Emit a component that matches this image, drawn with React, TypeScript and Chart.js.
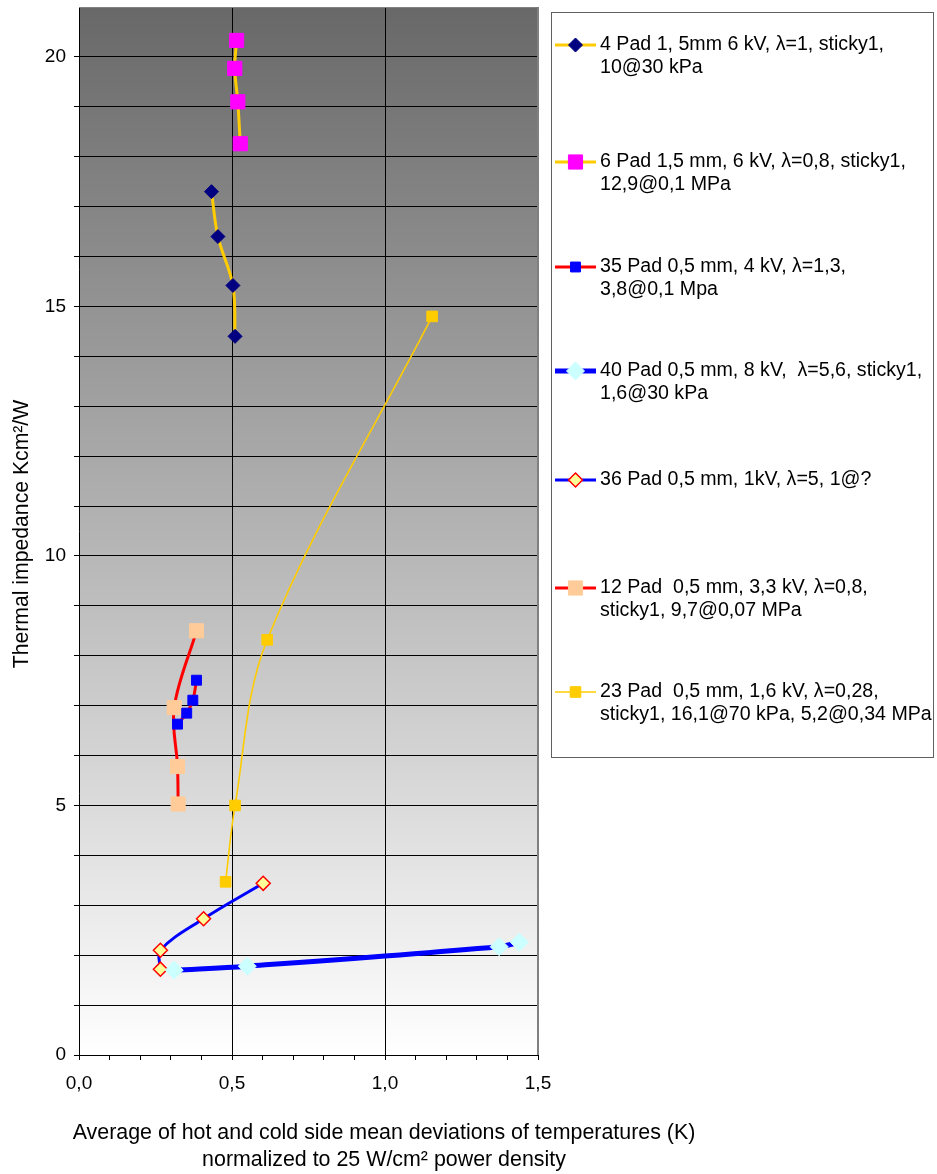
import React, { useEffect, useRef } from 'react';
import { Chart, registerables } from 'chart.js';

Chart.register(...registerables);

const FONT = '"Liberation Sans", Arial, sans-serif';

// ---- data ----
const seriesLabels: string[][] = [
  ['4 Pad 1, 5mm 6 kV, λ=1, sticky1,', '10@30 kPa'],
  ['6 Pad 1,5 mm, 6 kV, λ=0,8, sticky1,', '12,9@0,1 MPa'],
  ['35 Pad 0,5 mm, 4 kV, λ=1,3,', '3,8@0,1 Mpa'],
  ['40 Pad 0,5 mm, 8 kV,  λ=5,6, sticky1,', '1,6@30 kPa'],
  ['36 Pad 0,5 mm, 1kV, λ=5, 1@?'],
  ['12 Pad  0,5 mm, 3,3 kV, λ=0,8,', 'sticky1, 9,7@0,07 MPa'],
  ['23 Pad  0,5 mm, 1,6 kV, λ=0,28,', 'sticky1, 16,1@70 kPa, 5,2@0,34 MPa'],
];

const pad4X = [0.433, 0.454, 0.503, 0.510];
const pad4Y = [17.30, 16.40, 15.42, 14.40];
const pad6X = [0.515, 0.509, 0.519, 0.527];
const pad6Y = [20.33, 19.77, 19.10, 18.26];
const pad35X = [0.384, 0.372, 0.352, 0.322];
const pad35Y = [7.51, 7.11, 6.85, 6.63];
const pad40X = [0.311, 0.550, 1.373, 1.439];
const pad40Y = [1.70, 1.78, 2.17, 2.26];
const pad36X = [0.266, 0.266, 0.407, 0.602];
const pad36Y = [1.72, 2.10, 2.73, 3.44];
const pad12X = [0.384, 0.311, 0.322, 0.324];
const pad12Y = [8.50, 6.96, 5.78, 5.03];
const pad23X = [1.154, 0.615, 0.510, 0.479];
const pad23Y = [14.80, 8.32, 5.00, 3.47];

const xTitle = ['Average of hot and cold side mean deviations of temperatures (K)', 'normalized to 25 W/cm² power density'];
const yTitle = 'Thermal impedance Kcm²/W';

const X_MIN = 0;
const X_MAX = 1.5;
const Y_MIN = 0;
const Y_MAX = 21;

// ---- styles ----
const styles = [
  { line: '#FFCC00', lw: 3, ps: 'rectRot', r: 7, bg: '#000080', bc: '#000080', bw: 1 },
  { line: '#FFCC00', lw: 3, ps: 'rect', r: 10, bg: '#FF00FF', bc: '#FF00FF', bw: 1 },
  { line: '#FF0000', lw: 3, ps: 'rect', r: 7, bg: '#0000FF', bc: '#0000FF', bw: 1 },
  { line: '#0000FF', lw: 5, ps: 'rectRot', r: 9, bg: '#CCFFFF', bc: '#CCFFFF', bw: 1 },
  { line: '#0000FF', lw: 3, ps: 'rectRot', r: 7, bg: '#FFFF99', bc: '#FF0000', bw: 1.5 },
  { line: '#FF0000', lw: 3, ps: 'rect', r: 10, bg: '#FFCC99', bc: '#FFCC99', bw: 1 },
  { line: '#FFCC00', lw: 1.6, ps: 'rect', r: 7.5, bg: '#FFCC00', bc: '#FFCC00', bw: 1 },
];

const legendEntryY = [45, 162, 267, 371, 480, 588, 692];

function zip(xs: number[], ys: number[]) {
  return xs.map((x, i) => ({ x, y: ys[i] }));
}

function drawMarker(ctx: CanvasRenderingContext2D, st: any, x: number, y: number) {
  ctx.beginPath();
  if (st.ps === 'rect') {
    const s = st.r * Math.SQRT1_2;
    ctx.rect(x - s, y - s, 2 * s, 2 * s);
  } else {
    ctx.moveTo(x, y - st.r);
    ctx.lineTo(x + st.r, y);
    ctx.lineTo(x, y + st.r);
    ctx.lineTo(x - st.r, y);
    ctx.closePath();
  }
  ctx.fillStyle = st.bg;
  ctx.fill();
  ctx.strokeStyle = st.bc;
  ctx.lineWidth = st.bw;
  ctx.stroke();
}

const bgPlugin = {
  id: 'plotBg',
  beforeDraw(chart: any) {
    const { ctx, chartArea: a } = chart;
    ctx.save();
    const g = ctx.createLinearGradient(0, a.top, 0, a.bottom);
    g.addColorStop(0, '#686868');
    g.addColorStop(1, '#FFFFFF');
    ctx.fillStyle = g;
    ctx.fillRect(a.left, a.top, a.right - a.left, a.bottom - a.top);
    ctx.restore();
  },
  beforeDatasetsDraw(chart: any) {
    const { ctx, chartArea: a } = chart;
    ctx.save();
    ctx.strokeStyle = '#808080';
    ctx.lineWidth = 1;
    ctx.beginPath();
    ctx.moveTo(a.left, Math.round(a.top) + 0.5);
    ctx.lineTo(Math.round(a.right) - 0.5, Math.round(a.top) + 0.5);
    ctx.lineTo(Math.round(a.right) - 0.5, a.bottom);
    ctx.stroke();
    ctx.restore();
  },
};

const titlesPlugin = {
  id: 'axisTitles',
  afterDraw(chart: any) {
    const ctx: CanvasRenderingContext2D = chart.ctx;
    ctx.save();
    ctx.fillStyle = '#000000';
    ctx.textAlign = 'center';
    ctx.textBaseline = 'middle';
    ctx.font = `21.4px ${FONT}`;
    ctx.fillText(xTitle[0], 384, 1133);
    ctx.fillText(xTitle[1], 384, 1160);
    ctx.translate(22, 534);
    ctx.rotate(-Math.PI / 2);
    ctx.font = `21.2px ${FONT}`;
    ctx.fillText(yTitle, 0, 0);
    ctx.restore();
  },
};

const legendPlugin = {
  id: 'customLegend',
  afterDraw(chart: any) {
    const ctx: CanvasRenderingContext2D = chart.ctx;
    ctx.save();
    ctx.fillStyle = '#FFFFFF';
    ctx.fillRect(551, 12, 382, 745);
    ctx.strokeStyle = '#606060';
    ctx.lineWidth = 1;
    ctx.strokeRect(551.5, 12.5, 382, 745);
    ctx.font = `19.6px ${FONT}`;
    ctx.textBaseline = 'middle';
    ctx.textAlign = 'left';
    chart.data.datasets.forEach((ds: any, i: number) => {
      const st = styles[i];
      const y = legendEntryY[i];
      ctx.strokeStyle = st.line;
      ctx.lineWidth = st.lw;
      ctx.beginPath();
      ctx.moveTo(555, y);
      ctx.lineTo(596, y);
      ctx.stroke();
      drawMarker(ctx, st, 575.5, y);
      ctx.fillStyle = '#000000';
      seriesLabels[i].forEach((t, k) => {
        ctx.fillText(t, 600, y + k * 23);
      });
    });
    ctx.restore();
  },
};

function isMultiple(v: number, step: number) {
  const q = v / step;
  return Math.abs(q - Math.round(q)) < 1e-6;
}

function resetPad(s: any) {
  s.paddingLeft = 0;
  s.paddingRight = 0;
  s.paddingTop = 0;
  s.paddingBottom = 0;
}

export default function App() {
  const ref = useRef<HTMLCanvasElement | null>(null);

  useEffect(() => {
    if (!ref.current) return;
    const sets = [
      zip(pad4X, pad4Y),
      zip(pad6X, pad6Y),
      zip(pad35X, pad35Y),
      zip(pad40X, pad40Y),
      zip(pad36X, pad36Y),
      zip(pad12X, pad12Y),
      zip(pad23X, pad23Y),
    ];
    const datasets = sets.map((data, i) => {
      const st = styles[i];
      return {
        label: seriesLabels[i].join(' '),
        data,
        showLine: true,
        borderColor: st.line,
        borderWidth: st.lw,
        tension: 0.35,
        pointStyle: st.ps,
        pointRadius: st.r,
        pointHoverRadius: st.r,
        pointBackgroundColor: st.bg,
        pointBorderColor: st.bc,
        pointBorderWidth: st.bw,
        fill: false,
      };
    });

    const chart = new Chart(ref.current, {
      type: 'scatter',
      data: { datasets: datasets as any },
      options: {
        responsive: false,
        animation: false,
        events: [],
        layout: { autoPadding: false, padding: { left: 0, right: 399, top: 7, bottom: 0 } },
        plugins: {
          legend: { display: false },
          tooltip: { enabled: false },
          title: { display: false },
        },
        scales: {
          x: {
            type: 'linear',
            min: X_MIN,
            max: X_MAX,
            afterFit: (s: any) => {
              s.height = 119;
              resetPad(s);
            },
            ticks: {
              stepSize: 0.1,
              autoSkip: false,
              maxRotation: 0,
              minRotation: 0,
              padding: 12,
              color: '#000',
              font: { family: FONT, size: 19 },
              callback: (v: any) => (isMultiple(Number(v), 0.5) ? Number(v).toFixed(1).replace('.', ',') : ''),
            },
            grid: {
              color: (c: any) => {
                const v = c.tick ? c.tick.value : 0;
                if (!isMultiple(v, 0.5) || v === 0) return 'rgba(0,0,0,0)';
                if (Math.abs(v - X_MAX) < 1e-6) return '#808080';
                return '#000000';
              },
              tickColor: '#000000',
              tickLength: 5,
              lineWidth: 1,
            },
            border: { color: '#000000', width: 1 },
            title: { display: false },
          },
          y: {
            type: 'linear',
            min: Y_MIN,
            max: Y_MAX,
            afterFit: (s: any) => {
              s.width = 79;
              resetPad(s);
            },
            ticks: {
              stepSize: 1,
              autoSkip: false,
              padding: 8,
              color: '#000',
              font: { family: FONT, size: 19 },
              callback: (v: any) => (isMultiple(Number(v), 5) ? String(v) : ''),
            },
            grid: {
              color: (c: any) => {
                const v = c.tick ? c.tick.value : 0;
                if (v === Y_MAX) return 'rgba(0,0,0,0)';
                return '#000000';
              },
              tickColor: (c: any) => {
                const v = c.tick ? c.tick.value : 0;
                return v === Y_MAX ? 'rgba(0,0,0,0)' : '#000000';
              },
              tickLength: 5,
              lineWidth: 1,
            },
            border: { color: '#000000', width: 1 },
            title: { display: false },
          },
        },
      },
      plugins: [bgPlugin, titlesPlugin, legendPlugin],
    } as any);

    return () => chart.destroy();
  }, []);

  return (
    <div style={{ position: 'absolute', left: 0, top: 0, width: 937, height: 1174, background: '#fff' }}>
      <canvas ref={ref} width={937} height={1174} style={{ display: 'block', width: 937, height: 1174 }} />
    </div>
  );
}
